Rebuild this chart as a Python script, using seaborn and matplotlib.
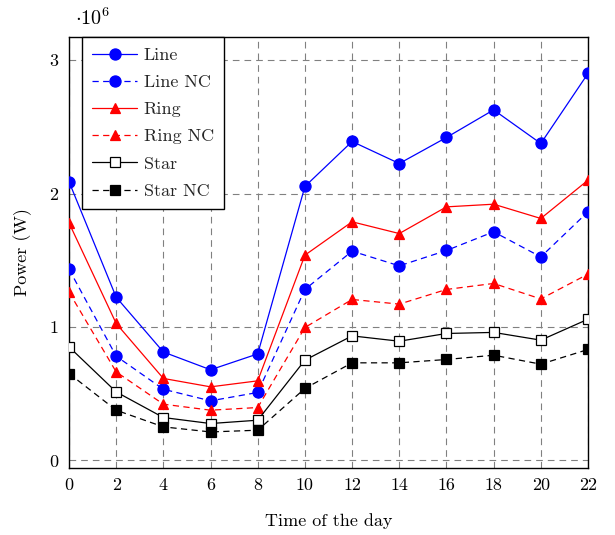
import matplotlib
matplotlib.use("Agg")
import matplotlib.pyplot as plt
import seaborn as sns
import pandas as pd

# Hour of the day
hours = [0, 2, 4, 6, 8, 10, 12, 14, 16, 18, 20, 22]

# Power per topology, in units of 10^6 W
line_w = [2.09, 1.224, 0.813, 0.680, 0.799, 2.054, 2.391, 2.226, 2.421, 2.628, 2.376, 2.901]
line_nc = [1.434, 0.782, 0.534, 0.447, 0.510, 1.282, 1.569, 1.459, 1.574, 1.714, 1.526, 1.864]
ring_w = [1.781, 1.027, 0.615, 0.552, 0.597, 1.539, 1.789, 1.701, 1.901, 1.921, 1.814, 2.101]
ring_nc = [1.262, 0.664, 0.422, 0.377, 0.397, 0.997, 1.207, 1.172, 1.282, 1.327, 1.211, 1.397]
star_w = [0.852, 0.514, 0.322, 0.277, 0.302, 0.752, 0.934, 0.894, 0.952, 0.960, 0.902, 1.059]
star_nc = [0.652, 0.377, 0.252, 0.214, 0.227, 0.540, 0.732, 0.732, 0.757, 0.789, 0.722, 0.832]

series_names = ["Line", "Line NC", "Ring", "Ring NC", "Star", "Star NC"]
y_ticks = [0, 1, 2, 3]

sns.set_theme(style="white")
plt.rcParams["font.family"] = ["cmr10", "DejaVu Serif"]
plt.rcParams["mathtext.fontset"] = "cm"
plt.rcParams["axes.formatter.use_mathtext"] = True
plt.rcParams["axes.unicode_minus"] = False

FS = 13

fig = plt.figure(figsize=(6.15, 5.35), dpi=100)
ax = fig.add_axes([0.1122, 0.1258, 0.8439, 0.8045])

dash = (0, (5, 3.5))
styles = [
    dict(color="#0000ff", marker="o", ls="-", ms=8.0, mfc="#0000ff", mec="#0000ff"),
    dict(color="#0000ff", marker="o", ls=dash, ms=8.0, mfc="#0000ff", mec="#0000ff"),
    dict(color="#ff0000", marker="^", ls="-", ms=7.0, mfc="#ff0000", mec="#ff0000"),
    dict(color="#ff0000", marker="^", ls=dash, ms=6.5, mfc="#ff0000", mec="#ff0000"),
    dict(color="black", marker="s", ls="-", ms=7.2, mfc="white", mec="black"),
    dict(color="black", marker="s", ls=dash, ms=7.6, mfc="black", mec="black"),
]
values = [line_w, line_nc, ring_w, ring_nc, star_w, star_nc]

for name, vals, st in zip(series_names, values, styles):
    df = pd.DataFrame({"hour": hours, "power": vals})
    sns.lineplot(
        data=df, x="hour", y="power", ax=ax, label=name,
        color=st["color"], marker=st["marker"], linestyle=st["ls"],
        markersize=st["ms"], markerfacecolor=st["mfc"],
        markeredgecolor=st["mec"], markeredgewidth=0.9, linewidth=0.9,
        zorder=3,
    )

ax.set_xlim(0, 22)
ax.set_ylim(-0.054, 3.172)
ax.set_xticks(hours)
ax.set_xticklabels([str(h) for h in hours])
ax.set_yticks(y_ticks)
ax.set_yticklabels([str(t) for t in y_ticks])
ax.tick_params(axis="both", length=0, labelsize=FS, colors="black")
ax.tick_params(axis="x", pad=7)
ax.tick_params(axis="y", pad=8)

ax.grid(True, color="#808080", linestyle=(0, (6, 4.5)), linewidth=0.8, zorder=0)
ax.set_axisbelow(True)
for sp in ax.spines.values():
    sp.set_color("black")
    sp.set_linewidth(1.0)
    sp.set_visible(True)

ax.set_xlabel("Time of the day", fontsize=FS, labelpad=15, color="black")
ax.set_ylabel("Power (W)", fontsize=FS, labelpad=12, color="black")

fig.text(75 / 615, 1 - 25 / 535, r"$\cdot 10^{6}$", fontsize=14.5,
         ha="left", va="baseline", color="black")

leg = ax.legend(
    loc="upper left", bbox_to_anchor=(0.0256, 1.0), borderaxespad=0,
    fontsize=FS, frameon=True, fancybox=False, framealpha=1,
    edgecolor="black", handlelength=2.5, handletextpad=0.35,
    labelspacing=0.64, borderpad=0.55, numpoints=1,
)
leg.get_frame().set_linewidth(1.0)

fig.savefig("out.png", dpi=100)
